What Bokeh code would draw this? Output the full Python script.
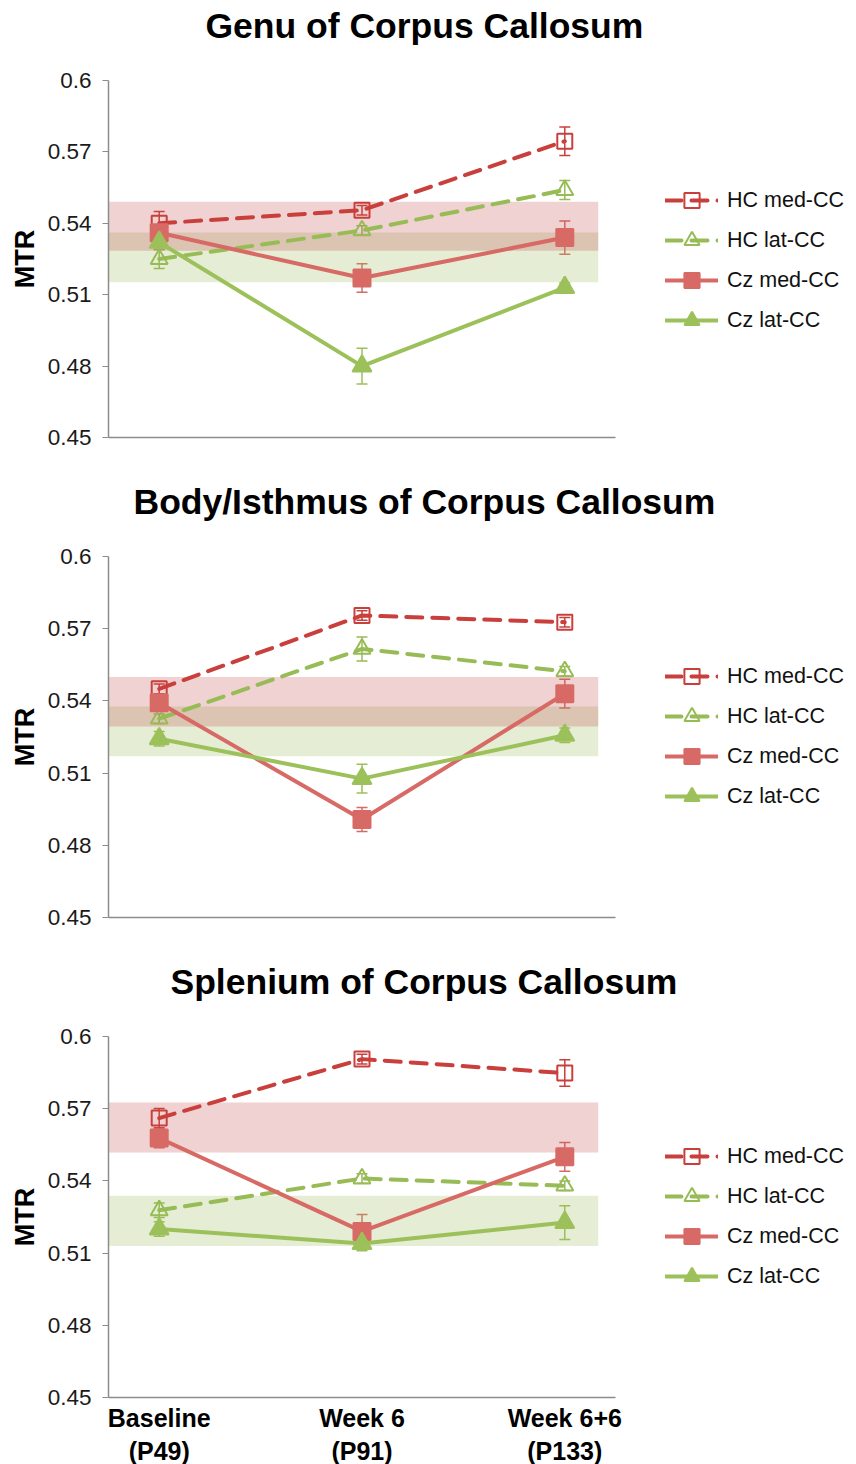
from bokeh.plotting import figure
from bokeh.models import (ColumnDataSource, Whisker, TeeHead, FixedTicker,
                          NumeralTickFormatter, Legend, LegendItem, Range1d, Title)
from bokeh.layouts import column
from bokeh.embed import file_html
from bokeh.resources import INLINE

# ---------------- data ----------------
TIMEPOINTS = [0, 1, 2]
TIME_LABELS = ["Baseline\n(P49)", "Week 6\n(P91)", "Week 6+6\n(P133)"]
SERIES_NAMES = ["HC med-CC", "HC lat-CC", "Cz med-CC", "Cz lat-CC"]
PANEL_TITLES = ["Genu of Corpus Callosum",
                "Body/Isthmus of Corpus Callosum",
                "Splenium of Corpus Callosum"]
Y_TICKS = [0.45, 0.48, 0.51, 0.54, 0.57, 0.6]

# Genu
GENU_HC_MED = [0.540, 0.5455, 0.5745]
GENU_HC_MED_ERR = [0.005, 0.002, 0.006]
GENU_HC_LAT = [0.525, 0.537, 0.554]
GENU_HC_LAT_ERR = [0.004, 0.002, 0.004]
GENU_CZ_MED = [0.536, 0.517, 0.534]
GENU_CZ_MED_ERR = [0.003, 0.006, 0.007]
GENU_CZ_LAT = [0.532, 0.480, 0.513]
GENU_CZ_LAT_ERR = [0.003, 0.0075, 0.002]
GENU_MED_BAND = [0.5285, 0.5491]
GENU_LAT_BAND = [0.5152, 0.5361]

# Body / Isthmus
BODY_HC_MED = [0.545, 0.5755, 0.5727]
BODY_HC_MED_ERR = [0.002, 0.002, 0.002]
BODY_HC_LAT = [0.5326, 0.5616, 0.5523]
BODY_HC_LAT_ERR = [0.002, 0.005, 0.002]
BODY_CZ_MED = [0.5392, 0.4907, 0.543]
BODY_CZ_MED_ERR = [0.003, 0.005, 0.006]
BODY_CZ_LAT = [0.5243, 0.5077, 0.5257]
BODY_CZ_LAT_ERR = [0.003, 0.006, 0.003]
BODY_MED_BAND = [0.5294, 0.5499]
BODY_LAT_BAND = [0.517, 0.5377]

# Splenium
SPLEN_HC_MED = [0.5661, 0.5906, 0.5848]
SPLEN_HC_MED_ERR = [0.004, 0.002, 0.0055]
SPLEN_HC_LAT = [0.5278, 0.541, 0.538]
SPLEN_HC_LAT_ERR = [0.003, 0.002, 0.002]
SPLEN_CZ_MED = [0.5578, 0.519, 0.550]
SPLEN_CZ_MED_ERR = [0.004, 0.007, 0.006]
SPLEN_CZ_LAT = [0.520, 0.514, 0.5227]
SPLEN_CZ_LAT_ERR = [0.003, 0.003, 0.007]
SPLEN_MED_BAND = [0.5518, 0.5726]
SPLEN_LAT_BAND = [0.513, 0.5338]

# ---------------- styles ----------------
FONT = "Liberation Sans"
RED_BAND = "#C0504D"
GREEN_BAND = "#9BBB59"
STYLES = [
    dict(color="#C93F3C", dash="16 10", marker="square", size=15, filled=False),
    dict(color="#97BB55", dash="16 10", marker="triangle", size=17, filled=False),
    dict(color="#D86A66", dash="solid", marker="square", size=17, filled=True),
    dict(color="#9CC05A", dash="solid", marker="triangle", size=19, filled=True),
]

X_MIN, X_AXIS_END, X_MAX = -0.25, 2.25, 3.399
BAND_RIGHT = 2.165


def make_panel(title, values, errs, med_band, lat_band, title_offset,
               top_border, bottom_border, frame_h, legend_bottom, show_x):
    p = figure(frame_width=740, frame_height=frame_h,
               x_range=Range1d(X_MIN, X_MAX), y_range=Range1d(0.45, 0.6),
               output_backend="svg", toolbar_location=None,
               min_border_left=108, min_border_right=0,
               min_border_top=top_border, min_border_bottom=bottom_border)
    p.outline_line_color = None
    p.grid.visible = False
    p.background_fill_color = "white"
    p.border_fill_color = "white"

    # spacer between frame and title, then the title itself
    p.add_layout(Title(text=" ", text_font_size="10px", standoff=22), "above")
    p.add_layout(Title(text=title, text_font=FONT, text_font_style="bold",
                       text_font_size="35.5px", text_color="#000000",
                       align="left", offset=title_offset, standoff=0), "above")

    # reference bands
    p.quad(left=[X_MIN], right=[BAND_RIGHT], bottom=[lat_band[0]], top=[lat_band[1]],
           fill_color=GREEN_BAND, fill_alpha=0.26, line_color=None)
    p.quad(left=[X_MIN], right=[BAND_RIGHT], bottom=[med_band[0]], top=[med_band[1]],
           fill_color=RED_BAND, fill_alpha=0.26, line_color=None)

    items = []
    for name, vals, err, st in zip(SERIES_NAMES, values, errs, STYLES):
        src = ColumnDataSource(dict(
            x=TIMEPOINTS, y=vals,
            upper=[v + e for v, e in zip(vals, err)],
            lower=[v - e for v, e in zip(vals, err)]))
        lr = p.line("x", "y", source=src, line_color=st["color"], line_width=4,
                    line_dash=st["dash"], line_cap="round")
        mr = p.scatter("x", "y", source=src, marker=st["marker"], size=st["size"],
                       line_color=st["color"], line_width=2,
                       fill_color=st["color"] if st["filled"] else None)
        w = Whisker(source=src, base="x", upper="upper", lower="lower",
                    dimension="height", line_color=st["color"], line_width=1.5,
                    upper_head=TeeHead(size=11, line_color=st["color"], line_width=1.5),
                    lower_head=TeeHead(size=11, line_color=st["color"], line_width=1.5))
        p.add_layout(w)
        items.append(LegendItem(label=name, renderers=[lr, mr]))

    legend = Legend(items=items, location=(557, legend_bottom), padding=0, margin=0,
                    border_line_color=None, background_fill_alpha=0,
                    glyph_width=53, glyph_height=38, label_height=20,
                    spacing=2, label_standoff=9,
                    label_text_font=FONT, label_text_font_size="21.5px",
                    label_text_color="#111111")
    p.add_layout(legend)

    # y axis
    ya = p.yaxis[0]
    ya.ticker = FixedTicker(ticks=Y_TICKS)
    ya.formatter = NumeralTickFormatter(format="0.0[0]")
    ya.axis_line_color = "#8C8C8C"
    ya.axis_line_width = 1.5
    ya.major_tick_line_color = "#8C8C8C"
    ya.major_tick_in = 0
    ya.major_tick_out = 6
    ya.minor_tick_line_color = None
    ya.major_label_text_font = FONT
    ya.major_label_text_font_size = "22.5px"
    ya.major_label_text_color = "#1A1A1A"
    ya.major_label_standoff = 11
    ya.axis_label = "MTR"
    ya.axis_label_text_font = FONT
    ya.axis_label_text_font_style = "bold"
    ya.axis_label_text_font_size = "27px"
    ya.axis_label_text_color = "#000000"
    ya.axis_label_standoff = 5

    # x axis
    xa = p.xaxis[0]
    xa.bounds = (X_MIN, X_AXIS_END)
    xa.axis_line_color = "#8C8C8C"
    xa.axis_line_width = 1.5
    xa.major_tick_line_color = None
    xa.minor_tick_line_color = None
    if show_x:
        xa.ticker = FixedTicker(ticks=TIMEPOINTS)
        xa.major_label_overrides = {t: lab for t, lab in zip(TIMEPOINTS, TIME_LABELS)}
        xa.major_label_text_font = FONT
        xa.major_label_text_font_style = "bold"
        xa.major_label_text_font_size = "25px"
        xa.major_label_text_color = "#000000"
        xa.major_label_standoff = 0
    else:
        xa.ticker = FixedTicker(ticks=[])
        xa.major_label_text_font_size = "0px"
    return p


p1 = make_panel(PANEL_TITLES[0],
                [GENU_HC_MED, GENU_HC_LAT, GENU_CZ_MED, GENU_CZ_LAT],
                [GENU_HC_MED_ERR, GENU_HC_LAT_ERR, GENU_CZ_MED_ERR, GENU_CZ_LAT_ERR],
                GENU_MED_BAND, GENU_LAT_BAND, 97, 80, 20, 357, 98, False)
p2 = make_panel(PANEL_TITLES[1],
                [BODY_HC_MED, BODY_HC_LAT, BODY_CZ_MED, BODY_CZ_LAT],
                [BODY_HC_MED_ERR, BODY_HC_LAT_ERR, BODY_CZ_MED_ERR, BODY_CZ_LAT_ERR],
                BODY_MED_BAND, BODY_LAT_BAND, 25, 99, 20, 361, 102, False)
p3 = make_panel(PANEL_TITLES[2],
                [SPLEN_HC_MED, SPLEN_HC_LAT, SPLEN_CZ_MED, SPLEN_CZ_LAT],
                [SPLEN_HC_MED_ERR, SPLEN_HC_LAT_ERR, SPLEN_CZ_MED_ERR, SPLEN_CZ_LAT_ERR],
                SPLEN_MED_BAND, SPLEN_LAT_BAND, 62, 99, 60, 361, 102, True)

layout = column(p1, p2, p3, spacing=0)
open("out.html", "w").write(file_html(layout, INLINE))
